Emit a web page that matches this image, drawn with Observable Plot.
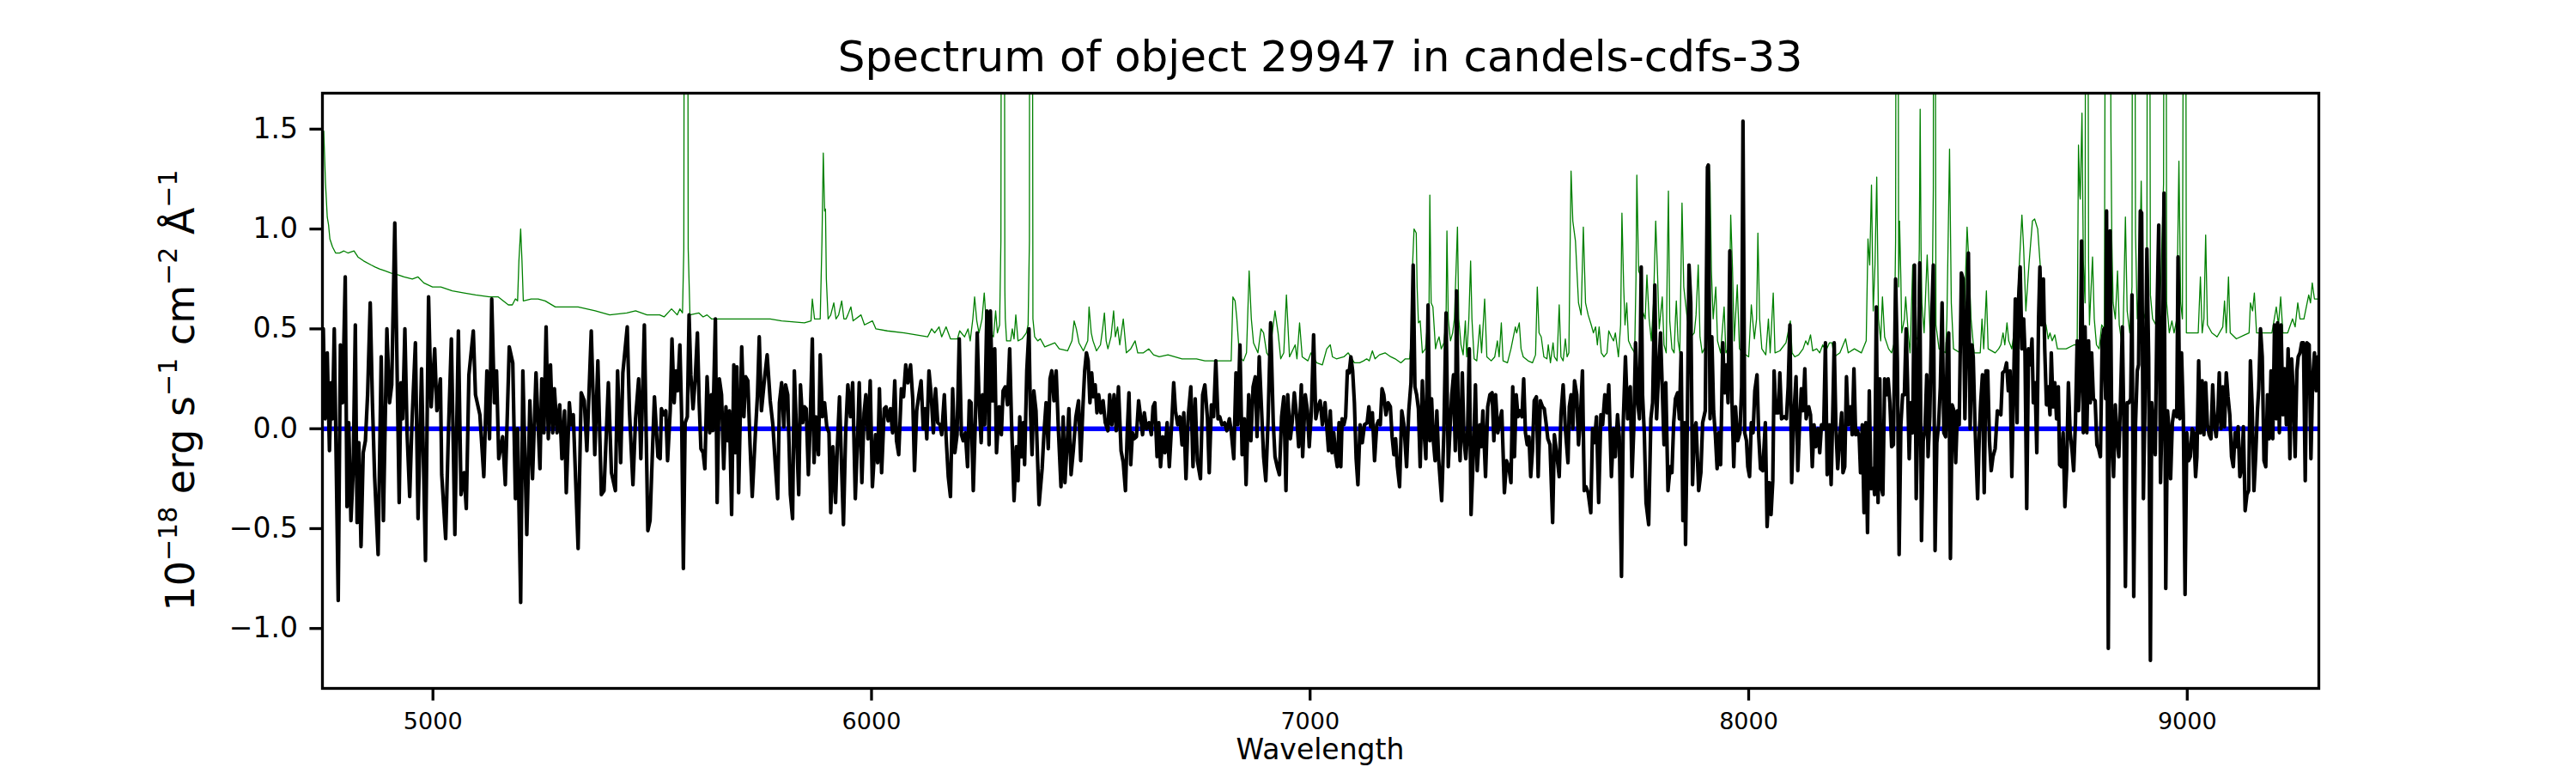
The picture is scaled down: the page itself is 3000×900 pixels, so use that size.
<!DOCTYPE html>
<html><head><meta charset="utf-8">
<script src="https://cdn.jsdelivr.net/npm/d3@7"></script>
<script src="https://cdn.jsdelivr.net/npm/@observablehq/plot@0.6"></script>
<style>
html,body{margin:0;padding:0;background:#fff;}
#chart svg{display:block;}
</style></head><body><div id="chart"></div>
<script>
const titleText = "Spectrum of object 29947 in candels-cdfs-33";
const xLabelText = "Wavelength";
const yLabelParts = [["10",false],["\u221218",true],[" erg s",false],["\u22121",true],[" cm",false],["\u22122",true],[" \u00c5",false],["\u22121",true]];
const xTicks = [5000,6000,7000,8000,9000];
const yTicks = [-1.0,-0.5,0.0,0.5,1.0,1.5];
const xDomain = [4748, 9300];
const yDomain = [-1.3, 1.68];
const zeroLevel = 0;

// observed flux [wavelength, flux]
const fluxA = [[4750,0.50],[4754,0.05],[4759,0.38],[4764,-0.11],[4768,0.23],[4771,0.05],[4775,0.50],[4784,-0.86],[4789,0.42],[4794,0.13],[4800,0.76],[4804,-0.39],[4808,0.03],[4813,-0.46],[4818,-0.22],[4823,0.52],[4827,-0.47],[4831,-0.07],[4836,-0.59],[4841,-0.12],[4846,-0.06],[4851,0.17],[4857,0.63],[4862,0.13],[4867,-0.24],[4875,-0.63],[4882,0.36],[4887,-0.46],[4895,0.50],[4901,0.13],[4906,0.22],[4913,1.03],[4923,-0.37],[4927,0.23],[4931,0.05],[4936,0.50],[4941,-0.02],[4947,-0.34],[4952,0.02],[4960,0.43],[4966,-0.45],[4974,0.30],[4983,-0.66],[4990,0.66],[4996,0.11],[5004,0.40],[5009,0.09],[5017,0.25],[5020,-0.23],[5029,-0.55],[5035,-0.04],[5042,0.45],[5050,-0.53],[5058,0.49],[5064,-0.33],[5071,-0.22],[5076,-0.40],[5082,0.27],[5092,0.49],[5097,0.17],[5107,0.07],[5116,-0.24],[5123,0.29],[5129,-0.05],[5134,0.65],[5140,0.13],[5145,0.29],[5150,-0.15],[5159,-0.04],[5165,-0.28],[5174,0.41],[5182,0.33],[5188,-0.35],[5193,0.00],[5200,-0.87],[5205,0.29],[5214,-0.53],[5221,0.14],[5227,-0.25],[5235,0.28],[5244,-0.20],[5248,0.25],[5253,-0.02],[5258,0.51],[5263,-0.05],[5268,0.32],[5273,-0.02],[5277,0.20],[5283,-0.02],[5289,0.12],[5294,-0.15],[5300,0.09],[5304,-0.32],[5311,0.13],[5315,0.02],[5320,0.07],[5331,-0.60],[5338,0.18],[5345,0.14],[5351,-0.11],[5361,0.49],[5369,-0.13],[5376,0.34],[5384,-0.33],[5390,-0.31],[5400,0.23],[5407,-0.22],[5416,-0.31],[5421,0.29],[5428,-0.17],[5433,0.28],[5443,0.51],[5448,0.09],[5456,-0.28],[5462,0.05],[5469,0.25],[5474,-0.15],[5482,0.52],[5490,-0.51],[5495,-0.46],[5501,-0.08]];
const fluxB = [[5505,0.16],[5513,-0.14],[5518,-0.15],[5521,0.10],[5526,0.07],[5531,0.09],[5535,-0.16],[5541,0.09],[5545,0.45],[5550,0.13],[5554,0.29],[5558,0.19],[5563,0.42],[5567,0.07],[5571,-0.70],[5575,0.03],[5580,0.06],[5584,0.57],[5588,0.27],[5593,0.10],[5598,0.25],[5603,0.48],[5607,0.13],[5611,-0.10],[5616,-0.12],[5620,-0.20],[5625,0.26],[5631,-0.02],[5635,0.17],[5638,-0.01],[5644,0.55],[5648,-0.37],[5653,0.25],[5658,0.17],[5663,-0.20],[5668,0.11],[5672,-0.06],[5676,0.09],[5681,-0.43],[5686,0.32],[5689,-0.12],[5693,0.31],[5697,-0.32],[5704,0.41],[5709,0.06],[5713,0.26],[5718,0.24],[5723,-0.08],[5728,-0.34],[5735,-0.03],[5740,0.17],[5744,0.46],[5749,0.09],[5756,0.25],[5762,0.37],[5769,0.14],[5775,0.02],[5781,-0.19],[5786,-0.35],[5790,0.13],[5795,0.23],[5800,0.01],[5804,0.22],[5809,0.17],[5815,-0.33],[5820,-0.45],[5824,0.29],[5829,-0.02],[5834,-0.33],[5838,0.22],[5843,0.03],[5847,0.11],[5851,0.10],[5856,-0.23],[5860,0.02],[5865,0.45],[5869,-0.17],[5873,0.06],[5879,-0.13],[5883,0.37],[5888,0.06],[5893,0.13],[5898,0.01],[5903,-0.02],[5907,-0.42],[5912,-0.09],[5918,-0.37],[5922,-0.09],[5927,0.16],[5932,-0.21],[5936,-0.48],[5941,-0.02],[5946,0.22],[5952,0.06],[5957,0.23],[5963,-0.35],[5968,-0.06],[5972,0.23],[5978,-0.27],[5983,0.08],[5987,0.17],[5992,-0.05],[5997,0.24],[6002,-0.29],[6009,-0.03],[6014,-0.17],[6018,0.20],[6023,-0.22],[6029,0.10],[6033,0.11],[6038,0.04],[6043,0.10],[6048,-0.02],[6053,0.24],[6057,-0.06],[6062,-0.13],[6068,0.20],[6073,0.16],[6078,0.32],[6083,0.23],[6089,0.32],[6094,0.15],[6098,-0.21],[6103,0.09],[6108,0.17],[6113,0.24],[6118,0.00],[6122,0.10],[6126,-0.05],[6131,0.29],[6136,0.17],[6141,-0.02],[6146,0.20],[6151,0.03],[6156,0.02],[6160,-0.03],[6166,0.17],[6170,-0.04],[6175,-0.24],[6180,-0.34],[6185,0.20],[6190,-0.12],[6195,-0.03],[6200,0.45],[6205,-0.03],[6209,-0.06],[6214,-0.02],[6219,-0.19],[6223,0.14],[6227,0.13],[6232,-0.31],[6237,0.06],[6241,0.48],[6245,0.15],[6250,-0.07],[6253,0.17],[6258,0.02]];
const fluxC = [[6263,0.59],[6268,-0.08],[6271,0.59],[6276,0.14],[6281,0.40],[6285,-0.12],[6291,0.11],[6296,-0.03],[6300,0.19],[6305,0.21],[6310,0.12],[6315,0.40],[6319,0.05],[6325,-0.36],[6330,-0.09],[6334,-0.26],[6338,0.06],[6342,-0.14],[6346,0.03],[6349,-0.18],[6354,0.29],[6359,0.50],[6362,0.11],[6366,-0.13],[6370,0.19],[6375,0.09],[6382,-0.38],[6389,-0.20],[6393,-0.03],[6398,0.13],[6403,-0.10],[6407,0.25],[6411,0.29],[6416,0.14],[6421,0.29],[6426,0.00],[6432,-0.29],[6437,0.06],[6441,-0.27],[6446,-0.08],[6450,0.10],[6455,-0.23],[6460,-0.11],[6466,0.06],[6472,0.14],[6477,-0.16],[6482,0.11],[6486,0.29],[6490,0.38],[6494,0.34],[6498,0.13],[6502,0.28],[6506,0.16],[6510,0.22],[6514,0.08],[6518,0.17],[6523,0.08],[6528,0.14],[6533,0.03],[6539,-0.01],[6543,0.17],[6548,0.02],[6553,0.17],[6558,-0.01],[6563,0.21],[6569,-0.11],[6574,-0.17],[6579,-0.31],[6583,-0.02],[6587,0.18],[6591,-0.18],[6595,-0.02],[6599,-0.05],[6604,-0.04],[6609,0.14],[6614,0.05],[6618,-0.03],[6622,0.08],[6627,0.00],[6633,0.03],[6638,-0.03],[6642,0.11],[6646,0.13],[6651,-0.14],[6655,0.03],[6659,-0.19],[6664,-0.04],[6669,-0.12],[6674,0.03],[6679,-0.19],[6685,0.05],[6689,0.23],[6693,0.09],[6698,0.02],[6703,0.06],[6708,-0.08],[6712,0.08],[6717,-0.25],[6722,0.06],[6728,0.21],[6733,-0.19],[6738,0.15],[6743,-0.16],[6750,-0.25],[6755,0.17],[6760,0.22],[6766,0.05],[6770,-0.22],[6775,0.12],[6780,0.06],[6785,0.34],[6790,0.05],[6794,0.06],[6799,0.02],[6805,0.03],[6810,-0.01],[6816,0.05],[6820,-0.01],[6826,-0.15],[6831,0.28],[6835,0.02],[6840,0.42],[6845,-0.13],[6850,0.05],[6854,-0.28],[6860,0.17],[6865,-0.06],[6870,0.21],[6875,0.26],[6879,-0.04],[6884,0.36],[6890,0.06],[6894,-0.14],[6899,-0.26],[6904,0.03],[6910,0.53],[6916,0.03],[6920,-0.14],[6925,-0.19],[6930,-0.23],[6935,0.06],[6940,0.16],[6945,-0.31],[6949,0.17],[6955,-0.05],[6959,0.03],[6964,0.18],[6969,0.07],[6974,-0.09],[6980,0.22],[6983,-0.14],[6989,0.17],[6994,0.09],[6998,-0.09],[7003,0.09],[7008,0.47],[7013,0.05],[7018,0.11],[7023,0.14],[7028,0.02],[7034,0.13]];
const fluxD = [[7042,-0.11],[7046,0.09],[7050,-0.12],[7054,-0.02],[7058,-0.13],[7062,-0.19],[7066,0.03],[7070,-0.19],[7073,0.05],[7077,0.02],[7081,0.06],[7085,0.29],[7089,0.28],[7093,0.36],[7097,0.29],[7101,0.13],[7105,-0.15],[7109,-0.28],[7114,0.02],[7119,-0.07],[7124,0.02],[7130,0.03],[7134,0.11],[7138,0.01],[7142,0.08],[7147,-0.16],[7152,0.02],[7156,0.04],[7160,0.02],[7164,0.20],[7168,0.17],[7173,0.07],[7178,0.13],[7183,0.11],[7187,-0.04],[7191,-0.13],[7195,-0.05],[7199,-0.19],[7204,-0.29],[7209,0.09],[7214,0.02],[7220,-0.19],[7225,0.09],[7230,0.23],[7235,0.82],[7239,0.21],[7243,0.17],[7247,0.10],[7251,-0.19],[7256,0.24],[7260,-0.02],[7264,-0.15],[7269,0.62],[7273,-0.06],[7277,0.15],[7281,-0.06],[7285,-0.16],[7289,0.09],[7293,-0.15],[7300,-0.36],[7305,-0.02],[7310,0.58],[7315,-0.19],[7319,0.00],[7323,0.17],[7327,0.27],[7331,-0.11],[7334,0.69],[7338,0.02],[7342,-0.16],[7347,0.28],[7351,-0.06],[7355,-0.15],[7359,-0.02],[7363,0.40],[7367,-0.43],[7372,-0.14],[7377,0.22],[7381,-0.21],[7387,0.02],[7390,-0.09],[7394,0.09],[7400,-0.24],[7405,0.11],[7410,0.17],[7415,0.18],[7419,-0.06],[7423,0.17],[7428,-0.02],[7432,0.03],[7437,0.09],[7443,-0.32],[7448,-0.16],[7453,-0.19],[7458,-0.27],[7462,0.21],[7466,-0.14],[7470,0.17],[7474,0.06],[7478,0.09],[7483,0.06],[7487,0.25],[7491,-0.02],[7495,-0.08],[7499,-0.04],[7503,-0.24],[7507,-0.11],[7511,0.14],[7516,0.16],[7520,-0.24],[7525,0.14],[7530,0.11],[7534,0.10],[7538,0.03],[7542,-0.05],[7547,-0.08],[7553,-0.47],[7557,-0.03],[7563,-0.14],[7568,-0.24],[7572,0.07],[7577,0.22],[7582,0.00],[7588,-0.17],[7591,0.11],[7595,0.17],[7599,0.00],[7603,0.24],[7608,0.17],[7612,-0.08],[7616,0.04],[7621,0.29],[7625,-0.31],[7629,-0.29],[7634,-0.32],[7640,-0.42],[7644,0.00],[7648,-0.07],[7653,0.06],[7658,-0.37],[7663,0.07],[7667,0.02],[7672,0.17],[7677,0.08],[7681,0.22],[7687,-0.24],[7692,0.00],[7696,-0.14],[7701,0.07],[7705,-0.04],[7710,-0.74],[7714,0.03],[7719,0.36],[7724,0.05],[7730,0.21],[7734,-0.24],[7738,0.00],[7742,0.43],[7747,0.13],[7751,0.05],[7755,0.81],[7758,0.17],[7762,-0.02],[7766,-0.37],[7772,-0.48],[7777,0.05],[7781,0.13],[7786,0.72],[7790,0.05],[7794,0.25],[7799,0.48]];
const fluxE = [[7807,-0.08],[7811,0.23],[7816,-0.31],[7821,-0.19],[7825,-0.22],[7829,0.03],[7833,0.15],[7838,0.18],[7842,0.05],[7846,0.38],[7850,-0.46],[7854,0.03],[7856,-0.58],[7860,0.02],[7864,0.82],[7868,0.63],[7872,-0.28],[7876,-0.01],[7880,0.03],[7886,-0.31],[7891,-0.22],[7895,0.03],[7901,0.09],[7906,1.31],[7908,1.32],[7912,0.05],[7916,0.46],[7920,0.09],[7924,-0.03],[7928,-0.20],[7932,-0.02],[7936,-0.18],[7941,0.43],[7945,0.18],[7949,0.32],[7953,0.13],[7957,0.89],[7962,0.13],[7966,-0.19],[7970,0.11],[7975,-0.06],[7980,-0.02],[7984,0.21],[7987,1.54],[7991,-0.02],[7995,-0.06],[7998,-0.19],[8002,-0.24],[8006,0.03],[8010,-0.02],[8014,0.19],[8019,0.27],[8023,-0.04],[8027,-0.20],[8032,-0.21],[8038,0.03],[8042,-0.49],[8047,-0.27],[8051,-0.43],[8055,-0.26],[8058,0.29],[8062,0.08],[8068,0.08],[8071,0.28],[8075,0.05],[8081,0.06],[8086,0.05],[8090,0.21],[8094,0.52],[8098,-0.27],[8103,0.07],[8108,0.26],[8112,-0.21],[8116,0.02],[8120,0.20],[8124,0.09],[8128,0.30],[8131,0.05],[8137,0.11],[8141,0.07],[8145,-0.19],[8149,0.02],[8153,-0.09],[8158,0.00],[8162,-0.12],[8166,0.02],[8171,0.00],[8175,0.43],[8179,-0.23],[8184,0.02],[8188,-0.28],[8192,0.11],[8195,0.43],[8199,0.00],[8203,-0.20],[8207,-0.06],[8212,0.08],[8215,-0.22],[8219,-0.19],[8223,0.26],[8227,0.02],[8232,0.11],[8236,-0.03],[8240,0.30],[8244,-0.03],[8248,-0.01],[8252,-0.04],[8255,-0.22],[8259,0.02],[8263,-0.42],[8267,0.03],[8271,-0.52],[8275,0.19],[8279,-0.30],[8283,-0.20],[8287,-0.33],[8291,0.61],[8295,-0.37],[8299,0.25],[8302,-0.29],[8306,-0.33],[8310,0.25],[8314,0.17],[8318,0.25],[8322,0.13],[8326,-0.09],[8330,-0.08],[8335,0.75],[8339,0.34],[8343,-0.63],[8347,0.02],[8351,0.17],[8355,0.17],[8359,0.50],[8362,0.25],[8366,-0.15],[8370,0.13],[8374,-0.02],[8378,0.82],[8382,-0.35],[8386,0.10],[8390,0.83],[8394,-0.56],[8398,-0.06],[8402,0.00],[8406,0.27],[8409,-0.14],[8413,0.06],[8417,0.54],[8421,0.82],[8425,-0.61],[8429,-0.07],[8433,0.02],[8437,0.21],[8441,0.63],[8445,-0.02],[8449,-0.04],[8453,0.43],[8456,0.48],[8460,-0.65],[8464,0.12],[8468,0.09],[8472,-0.17],[8476,0.09],[8480,0.02],[8485,0.78],[8489,0.75],[8493,0.05],[8497,0.48],[8501,0.88],[8505,0.00],[8509,0.42],[8512,0.36],[8516,0.02],[8522,-0.35],[8526,-0.02],[8529,0.13],[8533,0.27],[8537,-0.32],[8541,0.29],[8545,0.29],[8549,-0.06],[8553,-0.21],[8557,-0.14],[8562,-0.10],[8567,0.09]];
const fluxF = [[8575,0.07],[8579,0.28],[8584,0.29],[8588,0.33],[8592,0.19],[8596,0.29],[8600,-0.24],[8604,0.21],[8608,0.65],[8612,0.03],[8615,0.63],[8619,0.81],[8623,0.40],[8627,0.55],[8630,0.38],[8634,-0.40],[8638,0.40],[8642,0.32],[8646,0.45],[8649,0.13],[8653,0.23],[8657,-0.12],[8661,0.55],[8664,0.81],[8668,0.52],[8672,0.75],[8675,0.40],[8679,0.12],[8683,0.21],[8687,0.07],[8690,0.38],[8694,0.11],[8698,0.23],[8702,0.05],[8706,0.21],[8709,-0.18],[8713,-0.19],[8717,-0.02],[8721,-0.39],[8725,-0.20],[8729,0.23],[8733,-0.02],[8737,-0.10],[8741,-0.21],[8745,0.03],[8749,0.44],[8752,0.09],[8756,0.29],[8759,0.94],[8763,-0.02],[8767,0.51],[8771,-0.02],[8775,0.44],[8779,0.13],[8782,0.38],[8786,0.15],[8790,0.14],[8794,-0.08],[8798,-0.10],[8802,-0.14],[8806,0.44],[8810,0.50],[8814,0.15],[8816,1.09],[8820,-1.10],[8824,0.99],[8828,-0.04],[8832,-0.24],[8836,0.12],[8840,-0.05],[8844,-0.14],[8848,0.16],[8852,0.51],[8856,-0.06],[8859,-0.79],[8863,0.13],[8867,0.13],[8871,0.15],[8874,0.67],[8878,-0.84],[8882,0.02],[8886,0.29],[8889,0.32],[8893,1.09],[8896,1.08],[8900,-0.35],[8904,0.17],[8908,0.90],[8912,0.36],[8916,-1.16],[8919,0.13],[8923,-0.02],[8927,-0.13],[8931,0.57],[8935,1.02],[8939,-0.27],[8943,0.11],[8947,1.18],[8951,-0.80],[8955,0.09],[8959,-0.02],[8962,-0.25],[8966,0.03],[8970,0.09],[8976,0.06],[8979,0.86],[8983,0.05],[8987,0.38],[8991,0.07],[8995,-0.83],[8999,-0.02],[9003,-0.16],[9007,-0.14],[9011,0.00],[9015,-0.02],[9019,-0.24],[9022,-0.14],[9026,0.34],[9030,-0.02],[9034,0.24],[9038,-0.03],[9042,0.23],[9046,0.02],[9050,-0.03],[9054,-0.05],[9058,0.22],[9062,0.02],[9066,-0.04],[9070,0.09],[9073,0.28],[9077,0.00],[9081,0.21],[9085,0.01],[9089,0.28],[9093,0.16],[9097,0.07],[9101,-0.14],[9105,-0.19],[9109,-0.02],[9113,-0.09],[9116,0.01],[9120,-0.24],[9124,-0.20],[9128,0.01],[9132,-0.41],[9136,-0.33],[9140,-0.31],[9144,0.34],[9148,0.11],[9152,-0.31],[9156,-0.14],[9160,0.09],[9163,0.20],[9167,0.50],[9171,0.36],[9175,-0.16],[9179,-0.19],[9183,0.17],[9187,-0.05],[9191,0.29],[9195,-0.05],[9199,0.52],[9203,0.05],[9206,0.53],[9210,-0.02],[9214,0.52],[9218,0.07],[9222,0.30],[9226,0.02],[9230,0.40],[9234,-0.15],[9238,0.35],[9242,0.17],[9246,-0.14],[9250,0.29],[9253,0.36],[9257,0.38],[9261,0.43],[9265,0.43],[9269,-0.26],[9273,0.43],[9278,0.42],[9282,-0.15],[9286,0.25],[9290,0.38],[9294,0.19],[9298,0.36]];

// noise / sky spectrum [wavelength, value]
const skyA = [[4751,1.49],[4755,1.23],[4759,1.06],[4762,1.02],[4765,0.95],[4771,0.91],[4778,0.88],[4787,0.88],[4797,0.89],[4806,0.88],[4820,0.89],[4829,0.86],[4842,0.84],[4859,0.82],[4868,0.81],[4878,0.80],[4891,0.79],[4904,0.78],[4921,0.77],[4934,0.76],[4953,0.75],[4966,0.76],[4979,0.73],[4999,0.71],[5018,0.71],[5044,0.69],[5071,0.68],[5097,0.67],[5129,0.66],[5149,0.66],[5172,0.62],[5181,0.62],[5188,0.65],[5193,0.64],[5196,0.84],[5200,1.00],[5203,0.84],[5206,0.64],[5224,0.65],[5240,0.65],[5256,0.64],[5279,0.61],[5295,0.61],[5331,0.61],[5370,0.59],[5403,0.57],[5442,0.58],[5462,0.59],[5488,0.57],[5517,0.57],[5527,0.56],[5544,0.60],[5557,0.57],[5563,0.60],[5569,0.58],[5572,0.9],[5574,4],[5580,4],[5582,0.9],[5586,0.57],[5606,0.58],[5616,0.56],[5625,0.57],[5635,0.55],[5671,0.55],[5697,0.55],[5730,0.55],[5769,0.55],[5795,0.54],[5847,0.53],[5862,0.54],[5865,0.65],[5870,0.55],[5883,0.55],[5887,0.94],[5890,1.38],[5893,1.09],[5895,1.10],[5897,0.75],[5901,0.55],[5907,0.57],[5914,0.63],[5919,0.55],[5925,0.57],[5932,0.64],[5937,0.55],[5942,0.55],[5946,0.57],[5953,0.61],[5958,0.54],[5976,0.57],[5984,0.52],[6002,0.54],[6010,0.50],[6036,0.49],[6075,0.48],[6128,0.46],[6137,0.50],[6144,0.48],[6154,0.51],[6160,0.46],[6170,0.51],[6180,0.45],[6196,0.45],[6201,0.49],[6212,0.46],[6220,0.50],[6225,0.44],[6231,0.55],[6235,0.66],[6240,0.54],[6245,0.48],[6252,0.55],[6257,0.68],[6261,0.55],[6266,0.45]];
const skyB = [[6271,0.48],[6278,0.46],[6283,0.59],[6287,0.48],[6292,0.52],[6295,0.94],[6297,4],[6302,4],[6304,0.7],[6305,0.55],[6308,0.44],[6317,0.44],[6321,0.50],[6325,0.45],[6329,0.57],[6334,0.44],[6343,0.45],[6353,0.48],[6357,0.52],[6360,0.94],[6361,4],[6366,4],[6368,0.55],[6372,0.46],[6379,0.44],[6385,0.45],[6395,0.41],[6418,0.43],[6428,0.40],[6447,0.39],[6457,0.44],[6462,0.54],[6467,0.50],[6473,0.43],[6483,0.39],[6493,0.44],[6496,0.61],[6501,0.48],[6505,0.44],[6513,0.39],[6522,0.42],[6527,0.50],[6531,0.58],[6535,0.44],[6539,0.40],[6546,0.46],[6552,0.59],[6556,0.46],[6561,0.51],[6566,0.42],[6574,0.55],[6581,0.38],[6591,0.40],[6601,0.44],[6607,0.38],[6620,0.38],[6632,0.40],[6643,0.37],[6656,0.36],[6676,0.37],[6708,0.35],[6741,0.35],[6760,0.34],[6786,0.34],[6820,0.34],[6824,0.66],[6829,0.64],[6833,0.55],[6839,0.36],[6848,0.34],[6855,0.38],[6861,0.79],[6866,0.55],[6871,0.43],[6881,0.38],[6888,0.50],[6894,0.48],[6901,0.38],[6907,0.36],[6920,0.59],[6927,0.48],[6933,0.35],[6940,0.38],[6946,0.67],[6953,0.36],[6966,0.42],[6970,0.35],[6976,0.53],[6982,0.36],[6995,0.34],[7002,0.38],[7015,0.33],[7028,0.32],[7038,0.40],[7046,0.42],[7051,0.36],[7060,0.35],[7077,0.36],[7087,0.38],[7101,0.33],[7113,0.33],[7122,0.34],[7129,0.35],[7135,0.34],[7142,0.39],[7148,0.35],[7158,0.37],[7171,0.38],[7184,0.36],[7194,0.35],[7207,0.33],[7217,0.35],[7227,0.35]];
const skyC = [[7231,0.46],[7234,0.84],[7237,1.00],[7242,0.98],[7244,0.71],[7247,0.53],[7251,0.54],[7256,0.38],[7263,0.40],[7267,0.51],[7271,0.55],[7273,1.17],[7276,0.63],[7280,0.61],[7286,0.40],[7289,0.43],[7294,0.46],[7299,0.40],[7305,0.43],[7310,0.55],[7312,0.99],[7315,0.55],[7320,0.44],[7325,0.48],[7329,0.55],[7336,1.01],[7339,0.55],[7344,0.42],[7349,0.37],[7354,0.54],[7357,0.36],[7362,0.55],[7366,0.84],[7369,0.55],[7374,0.35],[7380,0.34],[7387,0.52],[7391,0.38],[7398,0.65],[7403,0.36],[7413,0.34],[7421,0.36],[7427,0.44],[7431,0.36],[7436,0.53],[7440,0.34],[7450,0.33],[7458,0.40],[7468,0.51],[7471,0.48],[7477,0.53],[7481,0.40],[7486,0.36],[7497,0.34],[7507,0.33],[7514,0.37],[7518,0.71],[7522,0.48],[7527,0.46],[7533,0.36],[7540,0.35],[7543,0.42],[7548,0.33],[7554,0.43],[7557,0.36],[7563,0.34],[7568,0.62],[7572,0.36],[7577,0.34],[7582,0.45],[7586,0.36],[7590,0.38],[7593,0.94],[7595,1.29],[7599,1.04],[7605,0.94],[7612,0.63],[7618,0.57],[7623,1.01],[7628,0.63],[7634,0.57],[7641,0.52],[7646,0.48],[7651,0.51],[7655,0.42],[7659,0.51],[7664,0.38],[7670,0.36],[7677,0.38],[7681,0.49],[7687,0.46],[7692,0.44],[7696,0.48],[7703,0.36],[7708,0.52],[7711,1.08],[7715,0.71],[7718,0.52],[7722,0.63],[7726,0.44],[7732,0.41],[7740,0.38],[7743,0.75],[7745,1.27],[7749,0.79],[7753,0.77],[7758,0.59],[7764,0.55],[7768,0.77],[7773,0.55],[7778,0.44],[7783,0.63],[7788,1.04],[7792,0.79],[7796,0.50],[7803,0.66],[7807,0.42],[7812,0.38],[7814,0.75],[7817,1.19],[7820,0.54],[7825,0.40],[7830,0.38],[7833,0.55],[7835,0.64],[7839,0.44],[7843,0.38],[7846,0.84],[7848,1.13],[7852,0.71],[7856,0.63],[7860,0.55],[7864,0.50],[7868,0.46],[7876,0.48],[7880,0.57],[7885,0.82],[7889,0.46],[7894,0.38],[7899,0.40],[7903,0.42],[7907,0.48],[7910,1.32],[7912,1.23],[7915,0.79],[7919,0.55],[7925,0.71],[7929,0.44],[7936,0.38],[7944,0.61],[7948,0.38],[7953,0.40],[7957,0.75],[7959,1.07],[7963,0.81],[7967,0.44],[7974,0.72],[7979,0.40],[7987,0.38],[8000,0.36],[8006,0.62],[8013,0.45],[8018,0.55],[8021,0.98],[8025,0.55],[8030,0.40],[8039,0.37],[8045,0.55],[8049,0.38],[8056,0.68],[8060,0.38],[8071,0.39],[8085,0.43],[8095,0.54],[8099,0.38],[8105,0.36],[8114,0.37],[8124,0.40],[8130,0.44],[8135,0.42],[8141,0.47],[8146,0.39],[8155,0.40],[8162,0.38],[8169,0.42],[8176,0.39],[8184,0.43],[8190,0.43],[8195,0.36],[8208,0.38],[8221,0.45],[8227,0.38],[8241,0.40],[8257,0.38],[8268,0.44],[8272,0.95],[8276,0.82],[8280,1.22],[8284,0.59],[8288,0.82],[8292,1.26],[8296,0.55],[8301,0.44],[8305,0.66],[8310,0.46],[8319,0.40],[8326,0.38],[8332,0.43],[8335,0.94],[8337,4],[8339.5,4],[8342,0.71],[8344,1.04],[8347,0.75],[8349,0.48],[8355,0.55],[8358,0.66],[8364,0.47],[8368,0.38],[8374,0.82],[8378,0.42],[8385,0.46],[8389,0.9],[8391,1.60],[8393,0.9],[8395,0.63],[8400,0.48],[8407,0.87],[8414,0.46],[8418,0.55],[8421,1.2],[8422,4],[8424,4],[8427,0.52],[8434,0.40],[8449,0.38],[8452,0.55],[8458,1.40],[8462,0.63],[8467,0.40],[8482,0.38],[8490,0.46],[8498,1.01],[8502,0.84],[8507,0.55],[8514,0.38],[8528,0.38],[8532,0.55],[8536,0.40],[8542,0.69],[8546,0.40],[8562,0.38]];
const skyD = [[8570,0.40],[8575,0.42],[8580,0.48],[8584,0.42],[8589,0.53],[8593,0.44],[8600,0.40],[8606,0.50],[8613,0.63],[8618,0.86],[8623,1.07],[8627,0.90],[8632,0.59],[8639,0.82],[8647,1.04],[8652,1.05],[8659,1.00],[8665,0.81],[8672,0.55],[8678,0.52],[8683,0.45],[8687,0.48],[8692,0.44],[8698,0.47],[8704,0.40],[8724,0.40],[8742,0.42],[8749,0.42],[8752,1.42],[8755,1.17],[8756,1.15],[8760,1.58],[8763,0.84],[8767,0.63],[8769,4],[8772,4],[8775,0.84],[8777,0.52],[8784,0.86],[8788,0.55],[8793,0.42],[8799,0.40],[8805,0.52],[8811,0.50],[8815,4],[8822,4],[8826,1.48],[8828,0.94],[8831,0.63],[8836,0.55],[8841,0.79],[8845,0.52],[8850,0.44],[8854,0.52],[8859,1.06],[8863,0.59],[8869,0.48],[8874,0.71],[8876,4],[8879,4],[8882,0.98],[8886,0.55],[8891,0.71],[8895,1.24],[8899,0.59],[8904,0.55],[8908,0.90],[8910,4],[8913,4],[8916,0.67],[8921,0.55],[8931,0.51],[8936,0.59],[8940,0.75],[8946,1.23],[8948,4],[8951,4],[8953,0.63],[8959,0.48],[8965,0.54],[8970,0.48],[8976,0.55],[8981,1.34],[8985,0.63],[8989,0.55],[8993,4],[8995.5,4],[8998,0.48],[9011,0.48],[9025,0.48],[9030,0.76],[9034,0.48],[9038,0.55],[9042,0.97],[9046,0.52],[9056,0.48],[9068,0.46],[9081,0.51],[9085,0.64],[9089,0.48],[9094,0.76],[9098,0.48],[9112,0.45],[9131,0.47],[9141,0.48],[9144,0.63],[9149,0.59],[9153,0.68],[9158,0.48],[9174,0.48],[9193,0.48],[9203,0.61],[9208,0.52],[9213,0.66],[9218,0.48],[9229,0.48],[9240,0.55],[9246,0.51],[9252,0.63],[9257,0.55],[9266,0.55],[9277,0.67],[9281,0.63],[9285,0.73],[9290,0.65],[9298,0.65]];

const toRows = arr => arr.map(([w, f]) => ({w, f}));
const flux = toRows([...fluxA, ...fluxB, ...fluxC, ...fluxD, ...fluxE, ...fluxF]);
const sky = toRows([...skyA, ...skyB, ...skyC, ...skyD]);
const wlRange = d3.extent(flux, d => d.w);
const fmtY = d => d.toFixed(1).replace("-", "\u2212");

const W = 3000, H = 900, mL = 375, mR = 300, mT = 108, mB = 99;

const svg = Plot.plot({
  width: W, height: H,
  marginLeft: mL, marginRight: mR, marginTop: mT, marginBottom: mB,
  style: {fontFamily: "DejaVu Sans", background: "white", color: "black", overflow: "visible"},
  x: {domain: xDomain},
  y: {domain: yDomain},
  marks: [
    Plot.line(sky, {x: "w", y: "f", stroke: "green", strokeWidth: 1.3, clip: true}),
    Plot.ruleY([zeroLevel], {x1: wlRange[0], x2: wlRange[1], stroke: "#0000ff", strokeWidth: 5.5}),
    Plot.line(flux, {x: "w", y: "f", stroke: "black", strokeWidth: 4.2, clip: true}),
    Plot.frame({stroke: "black", strokeWidth: 3.3}),
    Plot.axisX({ticks: xTicks, tickFormat: d => String(d), tickSize: 14.6, tickPadding: 14, fontSize: 27, strokeWidth: 3.3, label: null}),
    Plot.axisY({ticks: yTicks, tickFormat: fmtY, tickSize: 14.6, tickPadding: 14, fontSize: 33, strokeWidth: 3.3, label: null})
  ]
});

const s = d3.select(svg);
const cx = mL + (W - mL - mR) / 2;
s.append("text").attr("x", cx).attr("y", 83).attr("text-anchor", "middle")
  .attr("font-size", 50).attr("fill", "black").text(titleText);
s.append("text").attr("x", cx).attr("y", 884).attr("text-anchor", "middle")
  .attr("font-size", 33).attr("fill", "black").text(xLabelText);
const yl = s.append("text")
  .attr("transform", `translate(226,${mT + (H - mT - mB) / 2}) rotate(-90)`)
  .attr("text-anchor", "middle").attr("font-size", 46).attr("fill", "black");
let raised = false;
for (const [t, sup] of yLabelParts) {
  const sp = yl.append("tspan").attr("font-size", sup ? 30 : 46).text(t);
  if (sup && !raised) { sp.attr("dy", -20); raised = true; }
  else if (!sup && raised) { sp.attr("dy", 20); raised = false; }
}
document.getElementById("chart").appendChild(svg);
</script></body></html>
